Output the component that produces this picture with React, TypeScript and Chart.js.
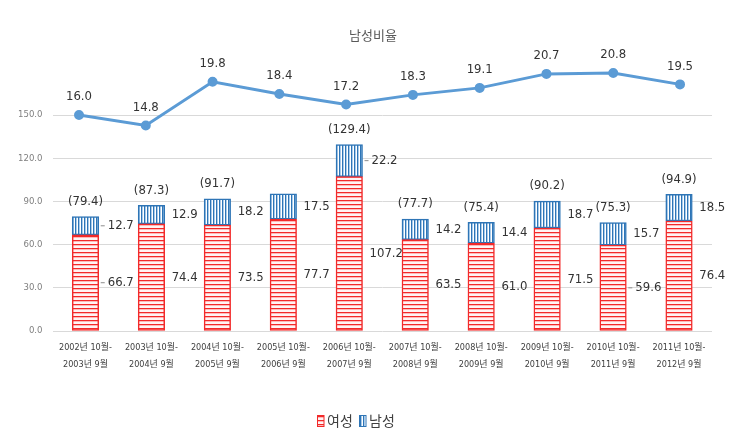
import React, { useEffect, useRef } from 'react';
import { Chart, registerables } from 'chart.js';

Chart.register(...registerables);

const categories: string[][] = [
  ['2002년 10월-', '2003년 9월'],
  ['2003년 10월-', '2004년 9월'],
  ['2004년 10월-', '2005년 9월'],
  ['2005년 10월-', '2006년 9월'],
  ['2006년 10월-', '2007년 9월'],
  ['2007년 10월-', '2008년 9월'],
  ['2008년 10월-', '2009년 9월'],
  ['2009년 10월-', '2010년 9월'],
  ['2010년 10월-', '2011년 9월'],
  ['2011년 10월-', '2012년 9월'],
];
const femaleValues = [66.7, 74.4, 73.5, 77.7, 107.2, 63.5, 61.0, 71.5, 59.6, 76.4];
const maleValues = [12.7, 12.9, 18.2, 17.5, 22.2, 14.2, 14.4, 18.7, 15.7, 18.5];
const totalLabels: (string | null)[] = ['(79.4)', '(87.3)', '(91.7)', null, '(129.4)', '(77.7)', '(75.4)', '(90.2)', '(75.3)', '(94.9)'];
const maleRatio = [16.0, 14.8, 19.8, 18.4, 17.2, 18.3, 19.1, 20.7, 20.8, 19.5];
const yTickValues = [0, 30, 60, 90, 120, 150];
const seriesNames = ['여성', '남성', '남성비율'];
const titleText = '남성비율';

const FONT = '"Liberation Sans Narrow", "DejaVu Sans Condensed", "Noto Sans CJK KR", sans-serif';
const KFONT = '"Noto Sans CJK KR", "Noto Sans", sans-serif';

function makePattern(kind: 'h' | 'v'): CanvasPattern | string {
  const c = document.createElement('canvas');
  const ctx = c.getContext('2d');
  if (!ctx) return kind === 'h' ? '#ff9999' : '#9dc3e6';
  if (kind === 'h') {
    c.width = 4; c.height = 4;
    ctx.fillStyle = '#fff4f4'; ctx.fillRect(0, 0, 4, 4);
    ctx.fillStyle = '#f22a2a'; ctx.fillRect(0, 0, 4, 1);
    ctx.fillStyle = '#ffb8b8'; ctx.fillRect(0, 1, 4, 1);
  } else {
    c.width = 3; c.height = 3;
    ctx.fillStyle = '#ffffff'; ctx.fillRect(0, 0, 3, 3);
    ctx.fillStyle = '#2e75b6'; ctx.fillRect(0, 0, 1, 3);
    ctx.fillStyle = '#a9cbea'; ctx.fillRect(1, 0, 1, 3);
  }
  return ctx.createPattern(c, 'repeat') as CanvasPattern;
}

export default function App() {
  const ref = useRef<HTMLCanvasElement | null>(null);

  useEffect(() => {
    const canvas = ref.current;
    if (!canvas) return;
    const femalePattern = makePattern('h');
    const malePattern = makePattern('v');

    const labelPlugin = {
      id: 'customLabels',
      afterDatasetsDraw(chart: any) {
        const ctx = chart.ctx as CanvasRenderingContext2D;
        const fMeta = chart.getDatasetMeta(0);
        const mMeta = chart.getDatasetMeta(1);
        const lMeta = chart.getDatasetMeta(2);
        ctx.save();
        ctx.fillStyle = '#333333';
        ctx.strokeStyle = '#8c8c8c';
        ctx.lineWidth = 1;
        ctx.textBaseline = 'middle';
        ctx.font = '13px ' + FONT;
        const leaderF = new Set([0, 8]);
        const leaderM = new Set([0, 4]);
        fMeta.data.forEach((bar: any, i: number) => {
          const p = bar.getProps(['x', 'y', 'base', 'width'], true);
          const right = p.x + p.width / 2;
          const mid = (p.y + p.base) / 2;
          ctx.textAlign = 'left';
          if (leaderF.has(i)) {
            ctx.beginPath(); ctx.moveTo(right + 2, mid); ctx.lineTo(right + 6, mid); ctx.stroke();
            ctx.fillText(femaleValues[i].toFixed(1), right + 9, mid);
          } else {
            ctx.fillText(femaleValues[i].toFixed(1), right + 7, mid);
          }
        });
        mMeta.data.forEach((bar: any, i: number) => {
          const p = bar.getProps(['x', 'y', 'base', 'width'], true);
          const right = p.x + p.width / 2;
          const mid = (p.y + p.base) / 2;
          ctx.textAlign = 'left';
          if (leaderM.has(i)) {
            ctx.beginPath(); ctx.moveTo(right + 2, mid); ctx.lineTo(right + 6, mid); ctx.stroke();
            ctx.fillText(maleValues[i].toFixed(1), right + 9, mid);
          } else {
            ctx.fillText(maleValues[i].toFixed(1), right + 7, mid);
          }
          const t = totalLabels[i];
          if (t) {
            ctx.textAlign = 'center';
            ctx.fillText(t, p.x, p.y - 15);
          }
        });
        ctx.font = '13px ' + FONT;
        ctx.textAlign = 'center';
        lMeta.data.forEach((pt: any, i: number) => {
          const p = pt.getProps(['x', 'y'], true);
          ctx.fillText(maleRatio[i].toFixed(1), p.x, p.y - 18);
        });
        ctx.restore();
      },
      afterDraw(chart: any) {
        const ctx = chart.ctx as CanvasRenderingContext2D;
        ctx.save();
        ctx.textBaseline = 'middle';
        ctx.textAlign = 'center';
        ctx.fillStyle = '#595959';
        ctx.font = '13px ' + KFONT;
        ctx.fillText(titleText, 373, 35);
        ctx.font = '14px ' + KFONT;
        ctx.textAlign = 'left';
        const items = [
          { fill: femalePattern, stroke: '#f22a2a', label: seriesNames[0] },
          { fill: malePattern, stroke: '#2e75b6', label: seriesNames[1] },
        ];
        let x = 317;
        const y = 421;
        items.forEach((it) => {
          ctx.fillStyle = it.fill as any;
          ctx.fillRect(x, y - 5.5, 7, 11);
          ctx.strokeStyle = it.stroke;
          ctx.lineWidth = 1;
          ctx.strokeRect(x + 0.5, y - 5.5, 6.5, 11);
          ctx.fillStyle = '#404040';
          ctx.fillText(it.label, x + 10, y);
          x += 42;
        });
        ctx.restore();
      },
    };

    const chart = new Chart(canvas, {
      type: 'bar',
      data: {
        labels: categories as any,
        datasets: [
          {
            label: seriesNames[0],
            data: femaleValues,
            backgroundColor: femalePattern as any,
            borderColor: '#f22a2a',
            borderWidth: 1.5,
            borderSkipped: false,
            barThickness: 26.5,
            grouped: false,
            stack: 's',
            order: 2,
          },
          {
            label: seriesNames[1],
            data: maleValues,
            backgroundColor: malePattern as any,
            borderColor: '#2e75b6',
            borderWidth: 1.5,
            borderSkipped: false,
            barThickness: 26.5,
            grouped: false,
            stack: 's',
            order: 2,
          },
          {
            type: 'line',
            label: seriesNames[2],
            data: maleRatio.map((v, i) => ({ x: i, y: v })),
            xAxisID: 'x2',
            yAxisID: 'y2',
            borderColor: '#5b9bd5',
            backgroundColor: '#5b9bd5',
            borderWidth: 3,
            pointRadius: 3.5,
            pointBackgroundColor: '#5b9bd5',
            pointBorderColor: '#5b9bd5',
            tension: 0,
            order: 1,
          } as any,
        ],
      },
      options: {
        responsive: false,
        animation: false,
        devicePixelRatio: 1,
        layout: { padding: { top: 57.4, left: 0, right: 18, bottom: 59 } },
        plugins: {
          legend: { display: false },
          title: { display: false },
          tooltip: { enabled: false },
        },
        scales: {
          x: {
            stacked: true,
            grid: { display: false, drawTicks: false },
            border: { display: false },
            ticks: {
              color: '#404040',
              font: { size: 9, family: FONT, lineHeight: 1.8 } as any,
              padding: 9,
              maxRotation: 0,
              autoSkip: false,
            },
            afterFit: (s: any) => { s.height = 45; },
          },
          y: {
            stacked: true,
            min: 0,
            max: 190,
            afterBuildTicks: (s: any) => { s.ticks = yTickValues.map((v) => ({ value: v })); },
            grid: { color: '#d9d9d9', drawTicks: false, lineWidth: 1 },
            border: { display: false },
            ticks: {
              color: '#7f7f7f',
              font: { size: 9.5, family: FONT },
              padding: 10,
              callback: (v: any) => Number(v).toFixed(1),
            },
            afterFit: (s: any) => { s.width = 52.5; },
          },
          x2: {
            type: 'linear',
            display: false,
            offset: false,
            min: -0.397,
            max: 9.479,
          },
          y2: {
            type: 'linear',
            display: false,
            min: -8.686,
            max: 22.583,
          },
        },
      } as any,
      plugins: [labelPlugin],
    });
    return () => chart.destroy();
  }, []);

  return (
    <div style={{ position: 'absolute', left: 0, top: 0, width: 730, height: 435, background: '#fff' }}>
      <canvas ref={ref} width={730} height={435} style={{ display: 'block', width: 730, height: 435 }} />
    </div>
  );
}
